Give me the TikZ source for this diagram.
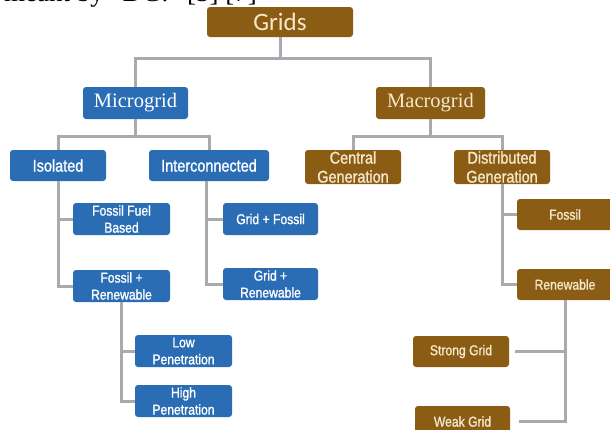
\documentclass[tikz,border=0pt]{standalone}
\usepackage{fontspec}
\setmainfont{Liberation Sans}
\newfontfamily\nsans[FakeStretch=0.85,FakeBold=1.2]{Liberation Sans}
\newfontfamily\capfont{Liberation Serif}
\newfontfamily\calfont{Carlito}
\definecolor{gblue}{HTML}{2A6DB5}
\definecolor{gbrown}{HTML}{8B5D14}
\definecolor{gcream}{HTML}{F6E8CC}
\definecolor{lgray}{HTML}{A7ABB0}
\tikzset{
  bxbase/.style={rounded corners=3pt, inner sep=0pt, align=center},
  bluebox/.style={bxbase, fill=gblue, text=white},
  brownbox/.style={bxbase, fill=gbrown, text=gcream},
  fbig/.style={font=\nsans\fontsize{17}{19}\selectfont},
  fsmall/.style={font=\nsans\fontsize{14.3}{17}\selectfont},
  conn/.style={draw=lgray, line width=3pt}
}
\begin{document}
\begin{tikzpicture}[x=1pt,y=-1pt]
\useasboundingbox (0,0) rectangle (610,429);
% clipped text above
\node[anchor=base east, inner sep=0pt, font=\capfont\fontsize{27}{30}\selectfont] (toptext) at (257,1.5) {meant by “DG.” [5] [7]};
% nodes
\node[brownbox, minimum width=146pt, minimum height=30pt, font=\calfont\fontsize{25}{28}\selectfont] (grids) at (280,22) {Grids};
\node[bluebox, minimum width=105pt, minimum height=32pt, font=\capfont\fontsize{20.5}{24}\selectfont] (micro) at (135.5,103) {Microgrid};
\node[brownbox, minimum width=109pt, minimum height=32pt, font=\capfont\fontsize{20.5}{24}\selectfont] (macro) at (430.5,103) {Macrogrid};
\node[bluebox, fbig, minimum width=96pt, minimum height=31pt] (iso) at (58,165.5) {Isolated};
\node[bluebox, fbig, minimum width=120pt, minimum height=31pt] (inter) at (209,165.5) {Interconnected};
\node[brownbox, fbig, minimum width=96pt, minimum height=34pt] (central) at (353,167) {Central\\Generation};
\node[brownbox, fbig, minimum width=96pt, minimum height=34pt] (distr) at (502,167) {Distributed\\Generation};
\node[bluebox, fsmall, minimum width=97pt, minimum height=32pt] (ffb) at (121.5,219) {Fossil Fuel\\Based};
\node[bluebox, fsmall, minimum width=97pt, minimum height=32pt] (fr) at (121.5,286) {Fossil +\\Renewable};
\node[bluebox, fsmall, minimum width=95pt, minimum height=32pt] (gf) at (270.5,219) {Grid + Fossil};
\node[bluebox, fsmall, minimum width=95pt, minimum height=32pt] (gr) at (270.5,284) {Grid +\\Renewable};
\node[bluebox, fsmall, minimum width=97pt, minimum height=32pt] (lp) at (183.5,351) {Low\\Penetration};
\node[bluebox, fsmall, minimum width=97pt, minimum height=32pt] (hp) at (183.5,401) {High\\Penetration};
\node[brownbox, fsmall, minimum width=96pt, minimum height=31pt] (fos) at (565,214.5) {Fossil};
\node[brownbox, fsmall, minimum width=96pt, minimum height=31pt] (ren) at (565,284.5) {Renewable};
\node[brownbox, fsmall, minimum width=96pt, minimum height=31pt] (sg) at (461,351.5) {Strong Grid};
\node[brownbox, fsmall, minimum width=95pt, minimum height=31pt] (wg) at (462.5,421.5) {Weak Grid};
% junctions
\coordinate (j1) at (280,58);
\coordinate (j2) at (135.5,136);
\coordinate (j3) at (430.5,136);
% connectors
\draw[conn] (grids.south) -- (j1);
\draw[conn] (micro.north) |- (j1) -| (macro.north);
\draw[conn] (micro.south) -- (j2);
\draw[conn] (iso.north) |- (j2) -| (inter.north);
\draw[conn] (macro.south) -- (j3);
\draw[conn] (central.north) |- (j3) -| (distr.north);
\draw[conn] (iso.south) |- (fr.west);
\draw[conn] (iso.south |- ffb.west) -- (ffb.west);
\draw[conn] ([xshift=-3pt]inter.south) |- (gr.west);
\draw[conn] ([xshift=-3pt]inter.south |- gf.west) -- (gf.west);
\draw[conn] (fr.south) |- (hp.west);
\draw[conn] (fr.south |- lp.west) -- (lp.west);
\draw[conn] (distr.south) |- (ren.west);
\draw[conn] (distr.south |- fos.west) -- (fos.west);
\draw[conn] (ren.south) |- ([xshift=9pt]wg.east);
\draw[conn] (ren.south |- sg.east) -- ([xshift=6pt]sg.east);
\end{tikzpicture}
\end{document}
